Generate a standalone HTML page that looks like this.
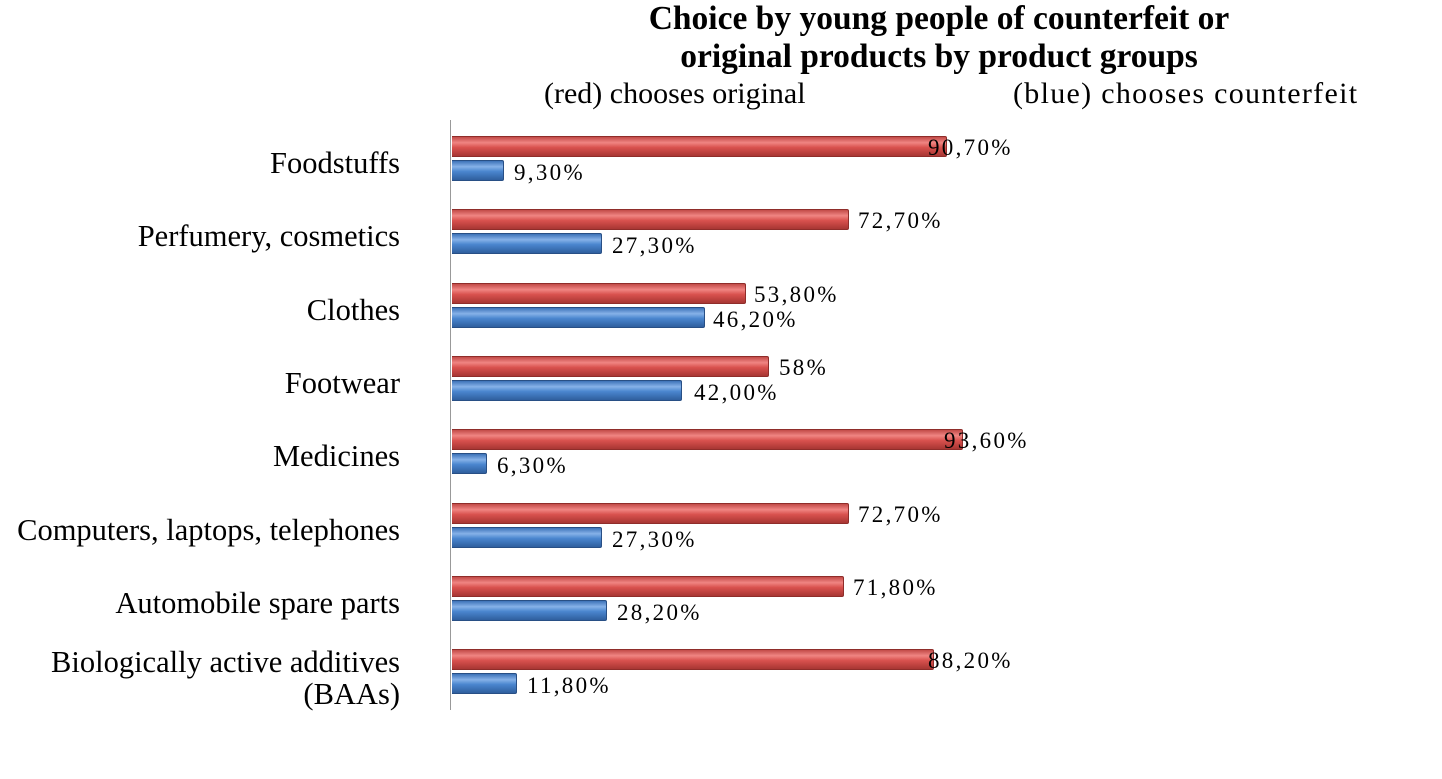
<!DOCTYPE html>
<html><head><style>
body{margin:0;background:#fff;width:1442px;height:779px;overflow:hidden;position:relative;font-family:"Liberation Serif",serif;color:#000}
.t{position:absolute;white-space:nowrap}
.cat{position:absolute;right:1042px;font-size:30.5px;text-align:right;line-height:32px;white-space:nowrap}
.v{position:absolute;font-size:23px;line-height:24px;letter-spacing:2.3px}
.r,.b{position:absolute;left:452px;height:19px;border-radius:0 2px 2px 0}
.r{background:linear-gradient(#c24b48,#f08582 30%,#d9514e 55%,#a83633);border:1px solid #8f2d2a;border-left:none}
.b{background:linear-gradient(#3c72b8,#86b2e8 30%,#4a86cf 55%,#2f5f9e);border:1px solid #284f85;border-left:none}
</style></head><body>
<div class="t" style="left:0;width:1878px;text-align:center;top:0px;font-size:33.5px;font-weight:bold;line-height:38px">Choice by young people of counterfeit or<br>original products by product groups</div>
<div class="t" style="left:544px;top:77px;font-size:30px">(red) chooses original</div>
<div class="t" style="left:1013px;top:77px;font-size:30px;letter-spacing:1.3px">(blue) chooses counterfeit</div>
<div style="position:absolute;left:450px;top:120px;width:1px;height:590px;background:#999"></div>
<div id="c"></div>
<script>
var d=[["Foodstuffs",90.7,"90,70%",928,9.3,"9,30%",514],["Perfumery, cosmetics",72.7,"72,70%",858,27.3,"27,30%",612],["Clothes",53.8,"53,80%",754,46.2,"46,20%",713],["Footwear",58,"58%",779,42,"42,00%",694],["Medicines",93.6,"93,60%",944,6.3,"6,30%",497],["Computers, laptops, telephones",72.7,"72,70%",858,27.3,"27,30%",612],["Automobile spare parts",71.8,"71,80%",853,28.2,"28,20%",617],["Biologically active additives<br>(BAAs)",88.2,"88,20%",928,11.8,"11,80%",527]];
var h="";d.forEach(function(e,i){var y=136+i*73.3;
h+='<div class="r" style="top:'+y+'px;width:'+(e[1]*5.45)+'px"></div>';
h+='<div class="b" style="top:'+(y+24)+'px;width:'+(e[4]*5.45)+'px"></div>';
h+='<div class="v" style="left:'+e[3]+'px;top:'+(y)+'px">'+e[2]+'</div>';
h+='<div class="v" style="left:'+e[6]+'px;top:'+(y+25)+'px">'+e[5]+'</div>';
h+='<div class="cat" style="top:'+(y+(i==7?-3:11))+'px">'+e[0]+'</div>';});
document.getElementById("c").innerHTML=h;
</script>
</body></html>
